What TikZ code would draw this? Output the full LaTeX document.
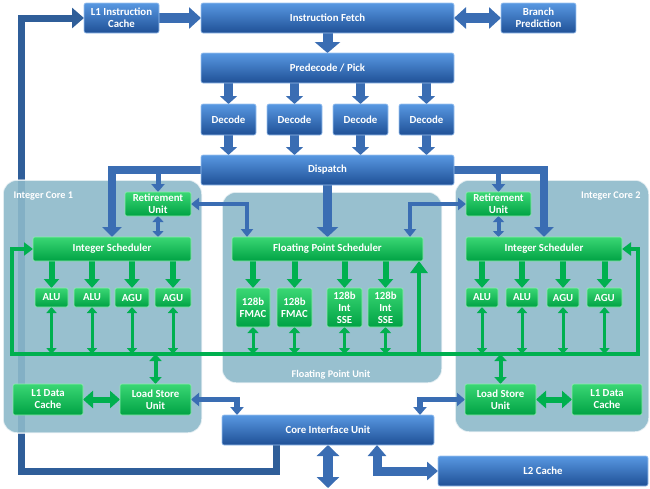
\documentclass[tikz,border=0pt]{standalone}
\usepackage{fontspec}
\setmainfont{Carlito}
\usetikzlibrary{arrows.meta}
\definecolor{bTop}{HTML}{5898E2}
\definecolor{bBot}{HTML}{1F5096}
\definecolor{bEdge}{HTML}{9CC3F0}
\definecolor{gTop}{HTML}{3AD774}
\definecolor{gBot}{HTML}{00A244}
\definecolor{gEdge}{HTML}{8DEBB0}
\definecolor{aBlue}{HTML}{3A6DB3}
\definecolor{aGreen}{HTML}{00B04F}
\definecolor{panelc}{HTML}{8DB9CA}
\definecolor{loopc}{HTML}{2F5E99}
\pgfdeclarelayer{loopL}
\pgfdeclarelayer{panelL}
\pgfdeclarelayer{connL}
\pgfsetlayers{loopL,panelL,connL,main}
\newcommand\bx[7]{%
  \node[#1, minimum width={(#5)-(#3)}, minimum height={(#6)-(#4)}] (#2)
    at ({((#3)+(#5))/2},{((#4)+(#6))/2}) {#7};}
\tikzset{
  blk/.style={inner sep=0pt, outer sep=0pt, rounded corners=2pt, align=center,
    text=white, font=\bfseries\fontsize{10.8}{12}\selectfont, line width=0.6pt},
  bbox/.style={blk, top color=bTop, bottom color=bBot, draw=bEdge},
  gbox/.style={blk, top color=gTop, bottom color=gBot, draw=gEdge},
  BA/.style n args={3}{draw=aBlue, line width=#1, -{Triangle[length=#2,width=#3]}},
  BD/.style n args={3}{draw=aBlue, line width=#1, {Triangle[length=#2,width=#3]}-{Triangle[length=#2,width=#3]}},
  GA/.style n args={3}{draw=aGreen, line width=#1, -{Triangle[length=#2,width=#3]}},
  GD/.style n args={3}{draw=aGreen, line width=#1, {Triangle[length=#2,width=#3]}-{Triangle[length=#2,width=#3]}},
  panel/.style={fill=panelc, fill opacity=0.9, draw=white, draw opacity=0.7, line width=1.5pt, rounded corners=14pt},
  plabel/.style={text=white, font=\fontsize{10.2}{11}\selectfont\bfseries},
}
\begin{document}
\begin{tikzpicture}[x=1pt,y=-1pt]
\useasboundingbox (0,0) rectangle (650,488);
% ---- boxes
\bx{bbox}{l1ic}{84}{3}{159}{33}{L1 Instruction\\Cache}
\bx{bbox}{ifetch}{201}{3}{454}{33}{Instruction Fetch}
\bx{bbox}{bp}{501}{3}{576}{33}{Branch\\Prediction}
\bx{bbox}{pre}{201}{53}{454}{83}{Predecode / Pick}
\bx{bbox}{dec1}{201}{104}{256}{135}{Decode}
\bx{bbox}{dec2}{267}{104}{322}{135}{Decode}
\bx{bbox}{dec3}{333}{104}{388}{135}{Decode}
\bx{bbox}{dec4}{399}{104}{454}{135}{Decode}
\bx{bbox}{disp}{201}{155}{454}{185}{Dispatch}
\bx{gbox}{ret1}{125}{192}{191}{216}{Retirement\\Unit}
\bx{gbox}{is1}{33}{237}{191}{261}{Integer Scheduler}
\bx{gbox}{a11}{35}{288}{68}{307}{ALU}
\bx{gbox}{a12}{74}{288}{110}{307}{ALU}
\bx{gbox}{a13}{115}{288}{149}{307}{AGU}
\bx{gbox}{a14}{155}{288}{191}{307}{AGU}
\bx{gbox}{fps}{232}{237}{423}{261}{Floating Point Scheduler}
\bx{gbox}{fp1}{236}{288}{270}{327}{128b\\FMAC}
\bx{gbox}{fp2}{277}{288}{312}{327}{128b\\FMAC}
\bx{gbox}{fp3}{327}{288}{362}{327}{128b\\Int\\SSE}
\bx{gbox}{fp4}{368}{288}{403}{327}{128b\\Int\\SSE}
\bx{gbox}{ret2}{466}{192}{531}{216}{Retirement\\Unit}
\bx{gbox}{is2}{466}{237}{622}{261}{Integer Scheduler}
\bx{gbox}{a21}{466}{288}{498}{307}{ALU}
\bx{gbox}{a22}{506}{288}{538}{307}{ALU}
\bx{gbox}{a23}{547}{288}{579}{307}{AGU}
\bx{gbox}{a24}{587}{288}{622}{307}{AGU}
\bx{gbox}{l1d1}{13}{384}{83}{415}{L1 Data\\Cache}
\bx{gbox}{lsu1}{120}{384}{191}{415}{Load Store\\Unit}
\bx{gbox}{lsu2}{465}{384}{536}{415}{Load Store\\Unit}
\bx{gbox}{l1d2}{572}{384}{642}{415}{L1 Data\\Cache}
\bx{bbox}{ciu}{222}{415}{434}{445}{Core Interface Unit}
\bx{bbox}{l2}{438}{456}{648}{486}{L2 Cache}
% ---- coordinates
\coordinate (busL) at (12,354);
\coordinate (busR) at (638,354);
\coordinate (loopBL) at (21.5,471);
\coordinate (botEnd) at (328,488);
% ---- panels
\begin{pgfonlayer}{panelL}
\draw[panel] (3,180) rectangle (202,433);
\draw[panel] (222,192) rectangle (442,383);
\draw[panel] (455,180) rectangle (649,432);
\node[plabel, anchor=west] (pl1) at (10,196) {Integer Core 1};
\node[plabel, anchor=east] (pl2) at (644,196) {Integer Core 2};
\node[plabel] (pl3) at (331,375) {Floating Point Unit};
\end{pgfonlayer}
% ---- loop line
\begin{pgfonlayer}{loopL}
\draw[draw=loopc, line width=7pt, -{Triangle[length=12pt,width=20pt]}]
  ([xshift=-52]ciu.south) |- (loopBL) |- (l1ic.west);
\end{pgfonlayer}
% ---- connectors
\begin{pgfonlayer}{connL}
\draw[BA={10pt}{12pt}{21pt}] (l1ic.east) -- (ifetch.west);
\draw[BD={10pt}{12pt}{21pt}] (ifetch.east) -- (bp.west);
\draw[BA={10pt}{11pt}{25pt}] (ifetch.south) -- (pre.north);
\foreach \d in {dec1,dec2,dec3,dec4}{
  \draw[BA={9pt}{8pt}{17pt}] (pre.south -| \d.north) -- (\d.north);
  \draw[BA={9pt}{8pt}{17pt}] (\d.south) -- (\d.south |- disp.north);
}
\draw[BA={9pt}{10pt}{21pt}] (disp.south -| fps.north) -- (fps.north);
\draw[BA={8pt}{10pt}{19pt}] (disp.west) -| (is1.north);
\draw[BA={8pt}{10pt}{19pt}] (disp.east) -| (is2.north);
\draw[BA={5pt}{8pt}{13pt}] (ret1.north |- disp.west) -- (ret1.north);
\draw[BA={5pt}{8pt}{13pt}] (ret2.north |- disp.east) -- (ret2.north);
\draw[BD={4pt}{6pt}{11pt}] (ret1.south) -- (ret1.south |- is1.north);
\draw[BD={4pt}{6pt}{11pt}] (ret2.south) -- (ret2.south |- is2.north);
\draw[BD={4.5pt}{8pt}{12pt}] (ret1.east) -| ([xshift=15]fps.north west);
\draw[BD={4.5pt}{8pt}{12pt}] (ret2.west) -| ([xshift=-13]fps.north east);
% green scheduler -> units
\foreach \u in {a11,a12,a13,a14}{
  \draw[GA={6pt}{9pt}{15pt}] (is1.south -| \u.north) -- (\u.north);
  \draw[GD={3pt}{6pt}{10pt}] (\u.south) -- (\u.south |- busL);
}
\foreach \u in {a21,a22,a23,a24}{
  \draw[GA={6pt}{9pt}{15pt}] (is2.south -| \u.north) -- (\u.north);
  \draw[GD={3pt}{6pt}{10pt}] (\u.south) -- (\u.south |- busL);
}
\foreach \u in {fp1,fp2,fp3,fp4}{
  \draw[GA={6pt}{9pt}{15pt}] (fps.south -| \u.north) -- (\u.north);
  \draw[GD={3pt}{6pt}{11pt}] (\u.south) -- (\u.south |- busL);
}
% bus
\draw[draw=aGreen, line width=4pt, {Triangle[length=9pt,width=13pt]}-{Triangle[length=9pt,width=13pt]}]
  (is1.west) -| (busL) -- (busR) |- (is2.east);
\draw[GA={4.5pt}{12pt}{17pt}] ([xshift=-4]fps.south east |- busL) -- ([xshift=-4]fps.south east);
% load store
\draw[GD={4pt}{7pt}{12pt}] (lsu1.north |- busL) -- (lsu1.north);
\draw[GD={4pt}{7pt}{12pt}] (lsu2.north |- busL) -- (lsu2.north);
\draw[GD={6pt}{10pt}{17pt}] (l1d1.east) -- (lsu1.west);
\draw[GD={6pt}{10pt}{17pt}] (lsu2.east) -- (l1d2.west);
\draw[BD={5.5pt}{8pt}{13pt}] (lsu1.east) -| ([xshift=15]ciu.north west);
\draw[BD={5.5pt}{8pt}{13pt}] (lsu2.west) -| ([xshift=-14]ciu.north east);
% bottom
\draw[BD={10pt}{11pt}{22pt}] (ciu.south) -- (botEnd);
\draw[BD={9pt}{11pt}{18pt}] ([xshift=49]ciu.south) |- (l2.west);
\end{pgfonlayer}
\end{tikzpicture}
\end{document}
